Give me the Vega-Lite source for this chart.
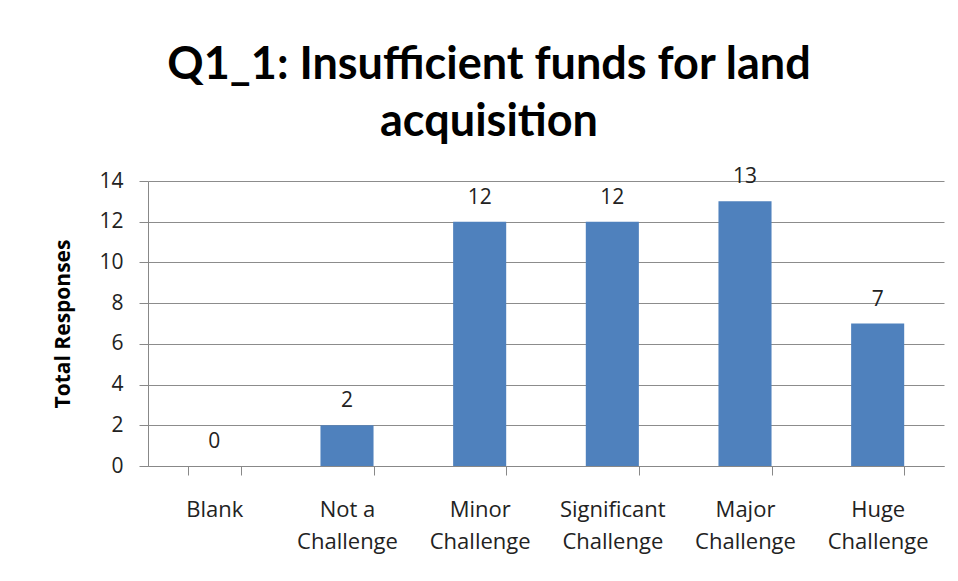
{
  "$schema": "https://vega.github.io/schema/vega-lite/v6.json",
  "width": 796,
  "height": 285,
  "autosize": "none",
  "padding": {"left": 148, "top": 181, "right": 14, "bottom": 115},
  "background": "white",
  "title": {
    "text": ["Q1_1: Insufficient funds for land", "acquisition"],
    "font": "Lato",
    "fontSize": 45,
    "fontWeight": "bold",
    "color": "#000000",
    "lineHeight": 57,
    "anchor": "middle",
    "dx": -57,
    "offset": 21
  },
  "data": {
    "values": [
      {"category": "Blank", "value": 0},
      {"category": "Not a Challenge", "value": 2},
      {"category": "Minor Challenge", "value": 12},
      {"category": "Significant Challenge", "value": 12},
      {"category": "Major Challenge", "value": 13},
      {"category": "Huge Challenge", "value": 7}
    ]
  },
  "config": {
    "view": {"stroke": null},
    "font": "Open Sans"
  },
  "encoding": {
    "x": {
      "field": "category",
      "type": "nominal",
      "sort": null,
      "scale": {"paddingInner": 0.6, "paddingOuter": 0.3},
      "axis": {
        "title": null,
        "labelAngle": 0,
        "labelFontSize": 22,
        "labelColor": "#222222",
        "labelFont": "Open Sans",
        "labelLineHeight": 32,
        "labelPadding": 24,
        "labelBaseline": "top",
        "labelExpr": "!isString(datum.value) ? '' : datum.value == 'Blank' ? 'Blank' : [replace(datum.value, ' Challenge', ''), 'Challenge']",
        "domainColor": "#888888",
        "tickColor": "#888888",
        "tickSize": 9,
        "tickBand": "extent",
        "grid": false
      }
    },
    "y": {
      "field": "value",
      "type": "quantitative",
      "scale": {"domain": [0, 14]},
      "axis": {
        "title": "Total Responses",
        "titleFont": "Open Sans",
        "titleFontSize": 21,
        "titleFontWeight": "bold",
        "titleColor": "#000000",
        "titlePadding": 25,
        "values": [0, 2, 4, 6, 8, 10, 12, 14],
        "labelFontSize": 21,
        "labelFont": "Open Sans",
        "labelColor": "#222222",
        "labelPadding": 16,
        "domainColor": "#888888",
        "tickColor": "#888888",
        "tickSize": 9,
        "gridColor": "#8c8c8c",
        "gridWidth": 1
      }
    }
  },
  "layer": [
    {"mark": {"type": "bar", "color": "#4F81BD"}},
    {
      "mark": {"type": "text", "baseline": "alphabetic", "dy": -18, "fontSize": 21, "font": "Open Sans", "color": "#222222"},
      "encoding": {"text": {"field": "value", "type": "quantitative"}}
    }
  ]
}
